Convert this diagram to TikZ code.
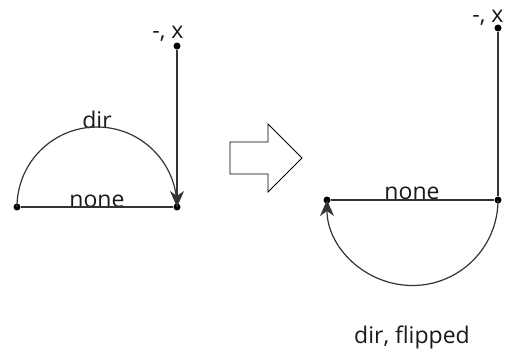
\documentclass[tikz,border=0pt]{standalone}
\usepackage{fontspec}
\setmainfont{Open Sans}
\usetikzlibrary{arrows.meta,positioning}

\begin{document}
\begin{tikzpicture}[
  x=1pt, y=-1pt,
  dot/.style={circle, fill=black, inner sep=0pt, minimum size=7pt},
  lbl/.style={font=\fontsize{23}{26}\selectfont, inner sep=0pt, text=black!90},
  edge/.style={draw=black!80, line width=1.2pt},
  >={Stealth[length=16pt,width=14pt,inset=5pt]},
]
\useasboundingbox (0,0) rectangle (507,354);

% before: semicircle on top
\node[dot] (A1) at (17,207) {};
\node[dot] (B1) at (177,207) {};
\node[dot] (T1) at (177,46) {};
\node[lbl, anchor=base] (none1) at (97,207) {none};
\node[lbl, anchor=base] (dir1) at (97,128) {dir};
\node[lbl] (x1) at (168,34) {-, x};
\draw[edge] (A1) -- (B1);
\draw[edge] (A1.center) arc[start angle=180, end angle=360, radius=80];
\draw[edge, ->] (T1) -- (B1.center);

% the big outline arrow
\draw[line width=0.9pt] (230,142) -- (268,142) -- (268,124) -- (302,158)
  -- (268,192) -- (268,174) -- (230,174) -- cycle;

% after: semicircle flipped below
\node[dot] (A2) at (327,200) {};
\node[dot] (B2) at (498,200) {};
\node[dot] (T2) at (498,28) {};
\node[lbl, anchor=base] (none2) at (412,199) {none};
\node[lbl] (x2) at (488,18) {-, x};
\node[lbl, anchor=base] (cap2) at (412,343) {dir, flipped};
\draw[edge] (A2) -- (B2);
\draw[edge] (T2) -- (B2);
\draw[edge, ->] (B2.center) arc[start angle=0, end angle=180, radius=85.5];
\end{tikzpicture}
\end{document}
